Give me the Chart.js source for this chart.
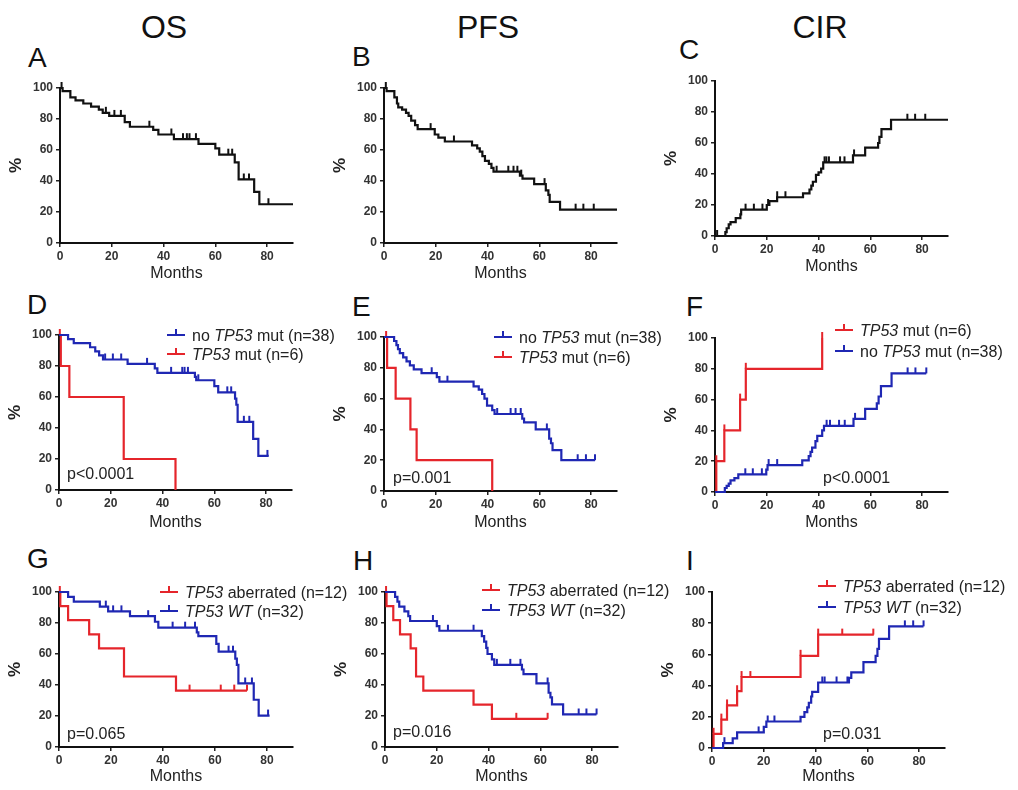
<!DOCTYPE html>
<html>
<head>
<meta charset="utf-8">
<script src="https://cdn.jsdelivr.net/npm/chart.js@4.4.1/dist/chart.umd.min.js"></script>
<style>
  body { margin:0; background:#fff; width:1018px; height:790px; overflow:hidden; position:relative;
         font-family:"Liberation Sans", Arial, sans-serif; }
  canvas { position:absolute; }
  .t { position:absolute; line-height:1; color:#111; white-space:nowrap; }
  .head { font-size:32px; width:200px; text-align:center; }
  .let { font-size:28px; }
</style>
</head>
<body>
<div class="t head" style="left:64px;top:11px">OS</div>
<div class="t head" style="left:388px;top:11px">PFS</div>
<div class="t head" style="left:720px;top:11px">CIR</div>
<div class="t let" style="left:28px;top:44px">A</div>
<div class="t let" style="left:352px;top:43px">B</div>
<div class="t let" style="left:679px;top:36px">C</div>
<div class="t let" style="left:27px;top:291px">D</div>
<div class="t let" style="left:352px;top:293px">E</div>
<div class="t let" style="left:686px;top:293px">F</div>
<div class="t let" style="left:27px;top:545px">G</div>
<div class="t let" style="left:353px;top:547px">H</div>
<div class="t let" style="left:686px;top:547px">I</div>
<script>
// axis ticks
const xTicks = [0, 20, 40, 60, 80];
const yTicks = [0, 20, 40, 60, 80, 100];
const xMax = 90, yMax = 100;

// legend labels (_..._ = italic)
const lblNoMut = 'no _TP53_ mut (n=38)';
const lblMut = '_TP53_ mut (n=6)';
const lblAb = '_TP53_ aberrated (n=12)';
const lblWt = '_TP53 WT_ (n=32)';
const pD = 'p<0.0001', pE = 'p=0.001', pF = 'p<0.0001';
const pG = 'p=0.065', pH = 'p=0.016', pI = 'p=0.031';

// A - OS, all patients
const aMonths = [0, 1, 4, 6, 9, 12, 15, 16.5, 19, 25, 27, 36, 38, 44, 53.5, 60, 61.5, 67.5, 69, 75, 77];
const aPct    = [100, 98, 94, 92, 90, 88, 86, 84, 82, 78, 75, 73, 70, 67, 64, 61, 57, 52, 41, 33, 25];
const aCens   = [0.6, 17.7, 21, 23.5, 34.5, 43, 47.5, 49, 50, 52.5, 65, 66.5, 71, 73, 80.5];
const aEnd = 90;

// B - PFS, all patients
const bMonths = [0, 1, 4, 5, 5.5, 7, 8.5, 9.5, 10.5, 12, 13, 19.6, 21, 23.5, 34, 36, 37, 38, 39, 40.5, 41.5, 42.3, 52.5, 53.5, 58, 62.5, 63.5, 64, 68];
const bPct    = [100, 98, 94, 90, 87.5, 86, 84, 82, 79, 76, 73.5, 70, 68, 65.5, 63, 61, 59, 56, 53, 51, 48.5, 46, 43.5, 41.5, 38, 34, 31, 26.5, 21.5];
const bCens   = [0.7, 18, 27, 43.5, 48, 50, 51.5, 53, 62, 74, 77, 81];
const bEnd = 90;

// C - CIR, all patients
const cMonths = [0, 4, 4.5, 5.3, 6, 8, 9.8, 10.1, 20, 21, 24, 34, 36.5, 37.2, 37.8, 39, 40, 41, 41.8, 53.3, 58, 63, 63.5, 64.3, 68];
const cPct    = [0, 2.5, 5, 7.5, 9, 11.5, 14, 17, 20, 22.5, 25, 27.5, 30, 32.5, 35, 39.5, 41, 43.5, 47.5, 52, 57, 60, 64, 69, 75];
const cCens   = [0.8, 11.8, 15, 18.3, 20.5, 24, 27.2, 42.3, 43, 44, 48.3, 50, 53.7, 74.3, 77.3, 81.2];
const cEnd = 90;

// D - OS by TP53 mutation
const dNoMonths = [0, 3.5, 5.7, 12, 14, 15.5, 17, 26.5, 37, 38, 52.5, 53, 60, 61.5, 68, 68.5, 69, 75, 77];
const dNoPct    = [100, 97.4, 94.7, 92.1, 89.5, 86.8, 84.2, 81.4, 78.5, 75.6, 73, 70.8, 67, 63, 59, 55, 44, 33, 22];
const dNoCens   = [17.8, 20.8, 24, 34, 43.3, 47.6, 48.5, 49.8, 53.8, 65, 66.5, 71.4, 73.5, 80.5];
const dNoEnd = 81;
const dMutMonths = [0, 0.7, 4, 25, 45];
const dMutPct    = [100, 80, 60, 20, 0];
const dMutCens   = [0.3];
const dMutEnd = 45;

// E - PFS by TP53 mutation
const eNoMonths = [0, 3.9, 4.8, 5.4, 6.1, 7.4, 8.7, 10, 11.5, 14.5, 20.4, 21.4, 34.6, 36.6, 37.9, 38.8, 39.8, 41.8, 42.7, 53.4, 54.1, 58.6, 63.8, 64.5, 65.1, 68.5];
const eNoPct    = [100, 97.4, 94.7, 92.1, 89.5, 86.8, 84.2, 81.6, 79, 76.5, 74, 71, 68, 65.8, 63, 60, 55.5, 52.5, 50, 47, 44.5, 40, 34, 31, 26.5, 20];
const eNoCens   = [18.4, 24.5, 43.7, 48.9, 50.8, 52.8, 62.9, 74.8, 78, 81.5];
const eNoEnd = 81.5;
const eMutMonths = [0, 1.2, 4.5, 10.2, 12.6, 41.8];
const eMutPct    = [100, 80, 60, 40, 20, 0];
const eMutCens   = [0.8];
const eMutEnd = 41.8;

// F - CIR by TP53 mutation
const fMutMonths = [0, 0.5, 3.6, 9.7, 11.9, 41.4];
const fMutPct    = [0, 20, 40, 60, 80, 100];
const fMutCens   = [0.5, 3.6, 9.7, 11.9, 41.4];
const fMutEnd = 41.4;
const fNoMonths = [0, 3.8, 4.5, 5.3, 6, 7.5, 9, 19.8, 20.3, 33.7, 36.2, 36.9, 37.5, 38.8, 39.5, 41.4, 42.1, 53.5, 58, 62.5, 63.2, 64.1, 68.2];
const fNoPct    = [0, 2.6, 4, 5.5, 7.5, 9, 11.5, 14.5, 17.5, 20.5, 23.3, 26, 28.8, 33, 36.5, 40, 43, 47.5, 54, 57.5, 62, 68.8, 77];
const fNoCens   = [11.7, 14.6, 18.1, 20.7, 24, 43.1, 44.4, 47.9, 50.1, 54.1, 74.4, 77.4, 81.6];
const fNoEnd = 81.6;

// G - OS by TP53 aberration
const gAbMonths = [0, 0.5, 3.5, 11.6, 15.4, 25, 45];
const gAbPct    = [100, 90.9, 81.8, 72.7, 63.6, 45.5, 36.4];
const gAbCens   = [0.3, 50.2, 62.2, 67.4, 72.3];
const gAbEnd = 72.3;
const gWtMonths = [0, 3.5, 5.7, 15.7, 18.9, 27.3, 36.9, 38.2, 53, 53.6, 60.5, 61.4, 67.8, 68.4, 69, 74.9, 76.8];
const gWtPct    = [100, 96.9, 93.8, 90.6, 87.5, 84.4, 80.8, 77, 74, 71.5, 66.5, 61.5, 57, 53, 41, 30.5, 20.3];
const gWtCens   = [18, 20.8, 24, 34.3, 43.7, 48.5, 52.3, 65.2, 66.9, 71.6, 74.2, 80.4];
const gWtEnd = 81;

// H - PFS by TP53 aberration
const hAbMonths = [0, 0.6, 3.2, 5.8, 9.9, 12, 14.8, 34.2, 41.3];
const hAbPct    = [100, 90.9, 81.8, 72.7, 63.6, 45.5, 36.4, 27.3, 18.2];
const hAbCens   = [0.4, 50.7, 62.8];
const hAbEnd = 62.8;
const hWtMonths = [0, 3.9, 4.8, 5.5, 7.5, 9, 9.7, 20, 21, 37.4, 38.3, 39.1, 39.6, 41.3, 42.2, 52.9, 53.5, 58.5, 63.2, 63.9, 64.5, 68.8];
const hWtPct    = [100, 96.9, 93.8, 90.6, 87.5, 84.4, 81.3, 78, 75, 71.5, 68, 64, 60, 56.5, 53, 50, 47, 41, 35, 32, 27.5, 21];
const hWtCens   = [18.5, 24.3, 34.2, 43.2, 48.4, 52.3, 62.8, 74.8, 77.8, 81.7];
const hWtEnd = 81.7;

// I - CIR by TP53 aberration
const iAbMonths = [0, 0.6, 3.6, 5.8, 9.7, 11.4, 34.2, 41];
const iAbPct    = [0, 9.1, 18.2, 27.3, 36.4, 45.5, 59.1, 72.7];
const iAbCens   = [0.6, 3.6, 5.8, 9.7, 11.4, 14.8, 34.2, 41, 50.3, 62.3];
const iAbEnd = 62.5;
const iWtMonths = [0, 4.3, 8, 9.7, 20, 21, 34.2, 35.7, 36.8, 37.4, 38.3, 38.7, 41, 52.9, 53.8, 58.5, 63.2, 63.9, 64.5, 68.4];
const iWtPct    = [0, 3.1, 6.2, 10, 13.5, 17, 20, 23, 26, 29, 33, 36, 42, 45, 48.5, 55, 59, 63.5, 70, 78];
const iWtCens   = [4.8, 18, 21.5, 24.1, 42.6, 43.5, 48.1, 52.3, 74.5, 77.7, 81.7];
const iWtEnd = 81.7;

const BLUE = '#1f27b3', RED = '#e5252b', BLACK = '#111';
const FONT = '"Liberation Sans", Arial, sans-serif';
Chart.defaults.font.family = FONT;
Chart.defaults.color = '#222';

function curve(months, pct, cens, end, color) { return { months, pct, cens, end, color }; }

// value of the step curve at time t
function kmAt(c, t) {
  let v = c.pct[0];
  c.months.forEach((m, i) => { if (m <= t) v = c.pct[i]; });
  return v;
}

// small upward censor tick used as point style
function tickMark(color) {
  const cv = document.createElement('canvas');
  cv.width = 4; cv.height = 14;
  const g = cv.getContext('2d');
  g.fillStyle = color;
  g.fillRect(1, 1, 2, 6);
  return cv;
}

function curveSets(c) {
  const line = c.months.map((m, i) => ({ x: m, y: c.pct[i] }));
  line.push({ x: c.end, y: c.pct[c.pct.length - 1] });
  const marks = c.cens.map(t => ({ x: t, y: kmAt(c, t) }));
  return [
    { data: line, borderColor: c.color, borderWidth: 2.2, stepped: 'before', pointRadius: 0, fill: false, clip: 4 },
    { data: marks, showLine: false, pointStyle: tickMark(c.color), pointRadius: 3, clip: false }
  ];
}

// legend + p value drawn on the canvas
const kmText = {
  id: 'kmText',
  afterDraw(chart, args, o) {
    const ctx = chart.ctx, a = chart.chartArea;
    ctx.save();
    ctx.textBaseline = 'middle';
    ctx.textAlign = 'left';
    ctx.fillStyle = '#222';
    (o.items || []).forEach((it, i) => {
      const x = a.left + o.dx, y = Math.round(a.top + o.dy + i * o.gap);
      ctx.strokeStyle = it.color;
      ctx.lineWidth = 2;
      ctx.beginPath();
      ctx.moveTo(x, y); ctx.lineTo(x + 18, y);
      ctx.moveTo(x + 9, y); ctx.lineTo(x + 9, y - 6);
      ctx.stroke();
      let tx = x + 25;
      it.text.split('_').forEach((part, k) => {
        ctx.font = (k % 2 ? 'italic ' : '') + '16px ' + FONT;
        ctx.fillText(part, tx, y + 1.5);
        tx += ctx.measureText(part).width;
      });
    });
    if (o.p) {
      ctx.font = '16px ' + FONT;
      ctx.fillText(o.p, a.left + o.px, a.bottom + o.py);
    }
    ctx.restore();
  }
};

// chart areas in page pixels: [left, top, right, bottom]
const panels = [
  { area: [60, 88, 293, 243], mGap: 31, curves: [curve(aMonths, aPct, aCens, aEnd, BLACK)] },
  { area: [384, 88, 617, 243], mGap: 31, curves: [curve(bMonths, bPct, bCens, bEnd, BLACK)] },
  { area: [715, 81, 948, 236], mGap: 31, curves: [curve(cMonths, cPct, cCens, cEnd, BLACK)] },
  { area: [59, 335, 292, 490], mGap: 33,
    curves: [curve(dNoMonths, dNoPct, dNoCens, dNoEnd, BLUE), curve(dMutMonths, dMutPct, dMutCens, dMutEnd, RED)],
    legend: { items: [{ text: lblNoMut, color: BLUE }, { text: lblMut, color: RED }], dx: 108, dy: 0, gap: 18.5, p: pD, px: 8, py: -15 } },
  { area: [384, 337, 617, 491], mGap: 32,
    curves: [curve(eNoMonths, eNoPct, eNoCens, eNoEnd, BLUE), curve(eMutMonths, eMutPct, eMutCens, eMutEnd, RED)],
    legend: { items: [{ text: lblNoMut, color: BLUE }, { text: lblMut, color: RED }], dx: 110, dy: 0, gap: 20, p: pE, px: 9, py: -12 } },
  { area: [715, 338, 948, 492], mGap: 31,
    curves: [curve(fNoMonths, fNoPct, fNoCens, fNoEnd, BLUE), curve(fMutMonths, fMutPct, fMutCens, fMutEnd, RED)],
    legend: { items: [{ text: lblMut, color: RED }, { text: lblNoMut, color: BLUE }], dx: 120, dy: -8, gap: 20.7, p: pF, px: 108, py: -13 } },
  { area: [59, 592, 293, 747], mGap: 29.5,
    curves: [curve(gWtMonths, gWtPct, gWtCens, gWtEnd, BLUE), curve(gAbMonths, gAbPct, gAbCens, gAbEnd, RED)],
    legend: { items: [{ text: lblAb, color: RED }, { text: lblWt, color: BLUE }], dx: 101, dy: 0, gap: 18.5, p: pG, px: 8, py: -12 } },
  { area: [385, 592, 618, 747], mGap: 29.5,
    curves: [curve(hWtMonths, hWtPct, hWtCens, hWtEnd, BLUE), curve(hAbMonths, hAbPct, hAbCens, hAbEnd, RED)],
    legend: { items: [{ text: lblAb, color: RED }, { text: lblWt, color: BLUE }], dx: 97, dy: -2, gap: 20, p: pH, px: 8, py: -14 } },
  { area: [712, 592, 945, 748], mGap: 29,
    curves: [curve(iWtMonths, iWtPct, iWtCens, iWtEnd, BLUE), curve(iAbMonths, iAbPct, iAbCens, iAbEnd, RED)],
    legend: { items: [{ text: lblAb, color: RED }, { text: lblWt, color: BLUE }], dx: 106, dy: -6, gap: 21, p: pI, px: 111, py: -13 } }
];

const axisGrid = { display: true, drawOnChartArea: false, drawTicks: true, tickLength: 4, color: '#222', lineWidth: 1.5 };
const axisBorder = { display: true, color: '#111', width: 2 };
const tickFont = { size: 12, weight: 'bold' };

panels.forEach(p => {
  const [l, t, r, b] = p.area;
  const padL = 6, padT = 30, padR = 80, padB = 50;
  const hx = p.mGap + 9.6;
  const cv = document.createElement('canvas');
  cv.width = (r - l) + 60 + padR;
  cv.height = (b - t) + padT + padB;
  cv.style.left = (l - 60) + 'px';
  cv.style.top = (t - padT) + 'px';
  document.body.appendChild(cv);

  new Chart(cv, {
    type: 'line',
    data: { datasets: p.curves.flatMap(curveSets) },
    options: {
      responsive: false,
      animation: false,
      devicePixelRatio: 1,
      events: [],
      layout: { padding: { left: padL, top: padT, right: padR, bottom: padB - hx } },
      plugins: {
        legend: { display: false },
        tooltip: { enabled: false },
        kmText: p.legend || {}
      },
      scales: {
        x: {
          type: 'linear', min: 0, max: xMax,
          afterBuildTicks: s => { s.ticks = xTicks.map(v => ({ value: v })); },
          afterFit: s => { s.height = hx; },
          grid: axisGrid, border: axisBorder,
          ticks: { font: tickFont, color: '#333', padding: 2, maxRotation: 0, autoSkip: false },
          title: { display: true, text: 'Months', font: { size: 16 }, color: '#222', padding: 0 }
        },
        y: {
          type: 'linear', min: 0, max: yMax,
          afterBuildTicks: s => { s.ticks = yTicks.map(v => ({ value: v })); },
          afterFit: s => { s.width = 54; },
          grid: axisGrid, border: axisBorder,
          ticks: { font: tickFont, color: '#333', padding: 3, autoSkip: false },
          title: { display: true, text: '%', font: { size: 17, weight: 'bold' }, color: '#222', padding: 0 }
        }
      }
    },
    plugins: [kmText]
  });
});
</script>
</body>
</html>
